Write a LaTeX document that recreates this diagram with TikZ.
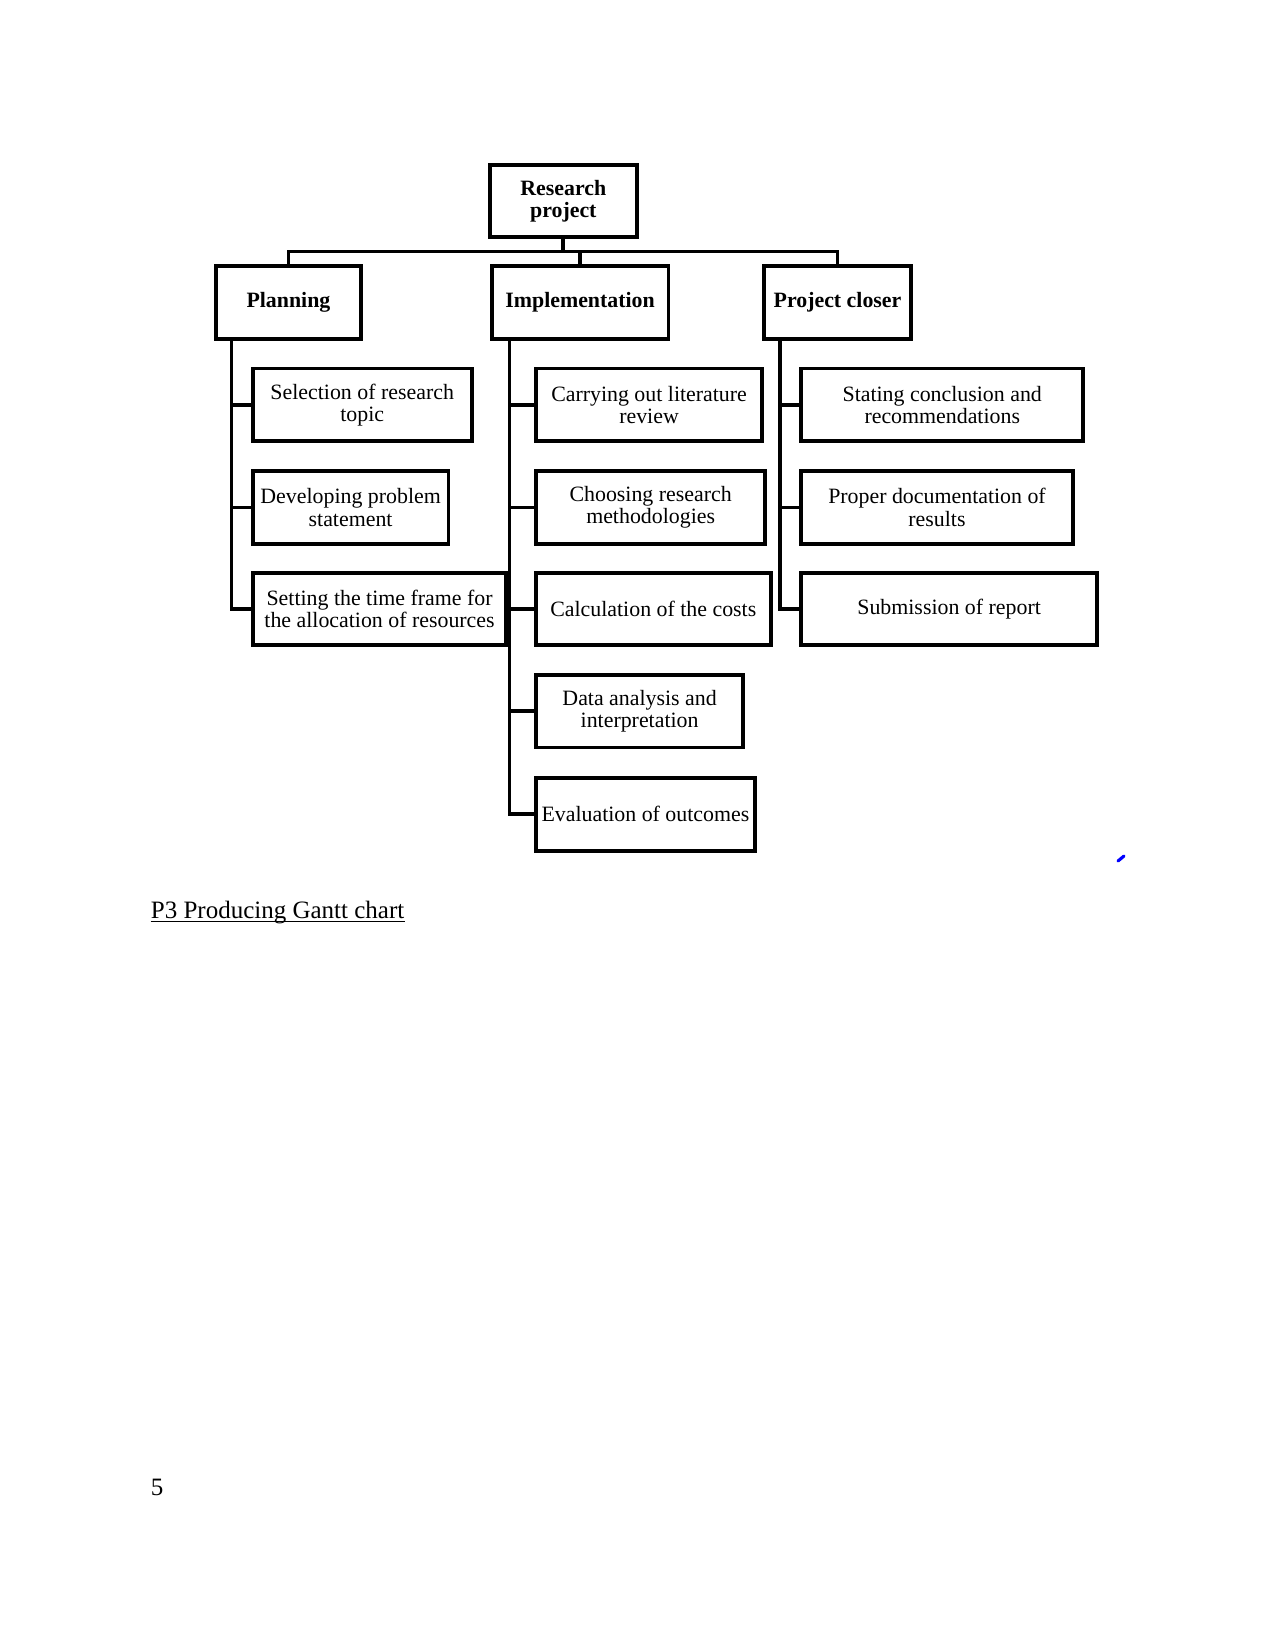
\documentclass[tikz,border=0pt]{standalone}
\usepackage{fontspec}
\setmainfont{Liberation Serif}
\newcommand\boxfont{\fontsize{10.5}{10.7}\selectfont}
\newcommand\bx[7][]{\node[box,#1,minimum width={(#5-#3)*0.48pt},minimum height={(#6-#4)*0.48pt}] (#2) at ({(#3+#5)/2},{(#4+#6)/2}) {#7};}
\begin{document}
\begin{tikzpicture}[x=0.48pt,y=-0.48pt,
  box/.style={draw,line width=1.9pt,align=center,inner sep=1pt,font=\boxfont},
  head/.style={font=\boxfont\bfseries},
  conn/.style={draw,line width=1.8pt,line join=miter}]
\useasboundingbox (0,0) rectangle (1275,1651);
% top level
\bx[head]{rp}{489.6}{165.3}{637}{236.9}{Research\\project}
\bx[head]{plan}{215.8}{266.4}{361.1}{339}{Planning}
\bx[head]{impl}{491.7}{266.4}{668.5}{339}{Implementation}
\bx[head]{clo}{764.3}{266.4}{910.7}{339}{Project closer}
% planning children
\bx{sel}{252.7}{368.5}{471.7}{441.1}{Selection of research\\topic}
\bx{dev}{252.7}{470.6}{448.5}{544.3}{Developing problem\\statement}
\bx{set}{252.7}{572.7}{506.4}{645.4}{Setting the time frame for\\the allocation of resources}
% implementation children
\bx{car}{535.9}{368.5}{762.2}{441.1}{Carrying out literature\\review}
\bx{cho}{535.9}{470.6}{765.4}{544.3}{Choosing research\\methodologies}
\bx{cal}{535.9}{572.7}{770.7}{645.4}{Calculation of the costs}
\bx{dat}{535.9}{674.8}{743.3}{747.5}{Data analysis and\\interpretation}
\bx{eva}{535.9}{778}{754.9}{850.7}{Evaluation of outcomes}
% closer children
\bx{sta}{801.2}{368.5}{1083.3}{441.1}{Stating conclusion and\\recommendations}
\bx{pro}{801.2}{470.6}{1072.8}{544.3}{Proper documentation of\\results}
\bx{sub}{801.2}{572.7}{1097}{645.4}{Submission of report}
% bus
\coordinate (bus) at (0,251.6);
\draw[conn] (rp.south) -- (rp.south |- bus);
\draw[conn] (plan.north) -- (plan.north |- bus) -- (clo.north |- bus) -- (clo.north);
\draw[conn] (impl.north |- bus) -- (impl.north);
% spines
\coordinate (ps) at (231.6,339);
\coordinate (is) at (509.6,339);
\coordinate (cs) at (780.1,339);
\draw[conn] (ps) |- (set.west);
\draw[conn] (sel.west -| ps) -- (sel.west);
\draw[conn] (dev.west -| ps) -- (dev.west);
\draw[conn] (is) |- (eva.west);
\draw[conn] (car.west -| is) -- (car.west);
\draw[conn] (cho.west -| is) -- (cho.west);
\draw[conn] (cal.west -| is) -- (cal.west);
\draw[conn] (dat.west -| is) -- (dat.west);
\draw[conn] (cs) |- (sub.west);
\draw[conn] (sta.west -| cs) -- (sta.west);
\draw[conn] (pro.west -| cs) -- (pro.west);
% blue mark
\coordinate (bm1) at (1118,861);
\coordinate (bm2) at (1124,856);
\draw[blue,line width=1.5pt,line cap=round] (bm1) -- (bm2);
% caption and page number
\node[anchor=base west,inner sep=0pt,font=\fontsize{12}{14}\selectfont] (cap) at (150.5,918) {P3 Producing Gantt chart};
\draw[line width=0.6pt] ([yshift=-1.6pt]cap.base west) -- ([yshift=-1.6pt]cap.base east);
\node[anchor=base west,inner sep=0pt,font=\fontsize{12}{14}\selectfont] (pg) at (150.5,1495) {5};
\end{tikzpicture}
\end{document}
